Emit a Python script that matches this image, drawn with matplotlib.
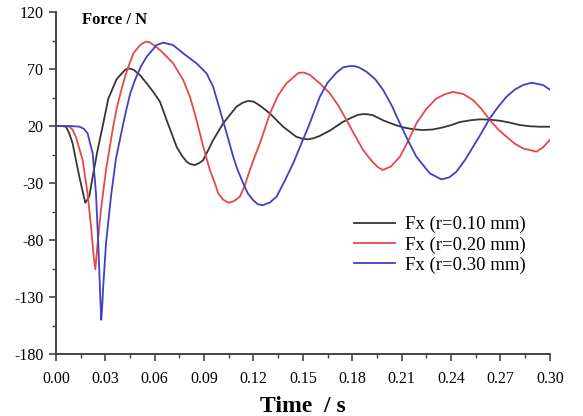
import numpy as np
import matplotlib
matplotlib.use('Agg')
import matplotlib.pyplot as plt

plt.rcParams['font.family'] = ['Liberation Serif', 'DejaVu Serif']
plt.rcParams['axes.unicode_minus'] = False

# Fx(t) read for each notch radius
t_r10 = [0.0, 0.0035, 0.0061, 0.0081, 0.0101, 0.0142, 0.0178, 0.0202, 0.0223, 0.0253,
         0.0283, 0.0318, 0.0368, 0.0405, 0.0422, 0.0439, 0.0456, 0.0475, 0.051, 0.0551,
         0.0591, 0.0632, 0.0672, 0.0733, 0.0765, 0.0794, 0.0815, 0.0844, 0.087, 0.0895,
         0.0955, 0.1016, 0.1097, 0.1135, 0.1168, 0.120, 0.1239, 0.130, 0.138, 0.146,
         0.1495, 0.153, 0.1565, 0.160, 0.1664, 0.1745, 0.1805, 0.1835, 0.1866, 0.1895,
         0.1925, 0.1988, 0.205, 0.211, 0.217, 0.223, 0.229, 0.235, 0.2405, 0.2453,
         0.2515, 0.2575, 0.2635, 0.2696, 0.2757, 0.2818, 0.288, 0.294, 0.300]
fx_r10 = [20, 20, 19.4, 13.5, 4.8, -24.5, -47.3, -42, -24.5, -1,
          19.4, 44, 61, 67, 69.5, 70.5, 70.2, 69, 64.7, 57.5,
          50, 41.3, 25.3, 1.8, -6, -11.3, -13.3, -14.2, -12.5, -9.8,
          7.7, 22.4, 37, 40.5, 42, 41.5, 38, 31, 19.4, 10.6,
          9, 8.3, 9.3, 11.2, 16, 23.8, 28, 29.8, 30.5, 30.3,
          29.5, 25, 21.5, 18.8, 17.2, 16.5, 17, 18.8, 21, 23.5,
          25, 25.9, 25.6, 24.7, 23, 20.9, 19.8, 19.4, 19.4]

t_r20 = [0.0, 0.004, 0.006, 0.0081, 0.010, 0.0121, 0.0162, 0.0192, 0.0213, 0.0229,
         0.0239, 0.0253, 0.0273, 0.0304, 0.0344, 0.0368, 0.0394, 0.0419, 0.0445, 0.047,
         0.0505, 0.0525, 0.0547, 0.0568, 0.059, 0.0632, 0.0672, 0.0712, 0.0773, 0.0814,
         0.0854, 0.0895, 0.0935, 0.0965, 0.0986, 0.1015, 0.1047, 0.108, 0.1117, 0.1145,
         0.1178, 0.1207, 0.1239, 0.130, 0.135, 0.140, 0.1472, 0.1505, 0.1542, 0.1603,
         0.1664, 0.1715, 0.1765, 0.1815, 0.1866, 0.192, 0.1955, 0.1985, 0.2035, 0.2089,
         0.214, 0.219, 0.225, 0.2312, 0.2365, 0.2413, 0.2475, 0.2534, 0.2585, 0.2636,
         0.2687, 0.2737, 0.2788, 0.2838, 0.2919, 0.296, 0.300]
fx_r20 = [20, 20, 20, 19.5, 17, 10.6, -9.8, -39, -68, -94.6,
          -105.7, -83, -53.7, -18.6, 16.5, 35, 50, 63, 74, 83.7,
          90, 92.5, 94, 93.5, 91.5, 86.7, 81, 75, 60.4, 45.7,
          25.3, 1.8, -18.6, -30, -39, -44.5, -47.3, -46, -42, -33,
          -18.6, -7, 4.8, 31, 47, 57.4, 66.5, 67, 65, 57.4,
          48.7, 38, 25.3, 12, -1, -11, -16, -18.5, -15.5, -7,
          7, 22.4, 35, 44.3, 48, 50, 48, 42.8, 35, 25.3,
          17, 10.6, 4.5, 0.4, -2.5, 1.5, 7.7]

t_r30 = [0.0, 0.0085, 0.0142, 0.017, 0.0192, 0.0223, 0.0243, 0.0257, 0.0269, 0.0275,
         0.0281, 0.0287, 0.0304, 0.0334, 0.0364, 0.0394, 0.0419, 0.045, 0.048, 0.0515,
         0.0551, 0.0611, 0.0652, 0.0712, 0.0773, 0.0854, 0.0915, 0.0955, 0.0996, 0.1037,
         0.1077, 0.1105, 0.1138, 0.1165, 0.1198, 0.1225, 0.1255, 0.130, 0.134, 0.139,
         0.1441, 0.1492, 0.1542, 0.1603, 0.165, 0.1705, 0.1745, 0.1785, 0.1815, 0.184,
         0.1887, 0.194, 0.1988, 0.204, 0.2089, 0.214, 0.219, 0.2271, 0.2342, 0.239,
         0.2433, 0.2484, 0.2534, 0.2585, 0.2636, 0.2687, 0.2737, 0.2788, 0.2838, 0.2889,
         0.2959, 0.300]
fx_r30 = [20, 20, 19.5, 17.5, 13.6, -4, -39, -83, -129.7, -150,
          -138, -121, -83, -42, -9, 12, 29, 48, 60.4, 72,
          80.8, 91, 93.2, 91, 83.8, 75, 66.2, 54.5, 34, 13.6,
          -7, -19, -30.3, -39, -45, -48.5, -49.5, -47, -42, -28,
          -12.7, 5, 22.4, 45.7, 58, 67, 71.5, 72.6, 72.5, 71.5,
          67.6, 61, 51.6, 38, 22.4, 7, -7, -21.5, -26.8, -25,
          -20, -10, 1.8, 14, 26.8, 37, 45.7, 52, 56, 58,
          56, 52]

labels = ['Fx (r=0.10 mm)', 'Fx (r=0.20 mm)', 'Fx (r=0.30 mm)']
colors = ['#363636', '#e5484a', '#4040c0']

fig = plt.figure(figsize=(5.83, 4.16), dpi=100)
ax = fig.add_axes([0.096, 0.149, 0.847, 0.822])

for t, fx, lab, c in zip([t_r10, t_r20, t_r30], [fx_r10, fx_r20, fx_r30], labels, colors):
    ax.plot(t, fx, color=c, lw=1.3, label=lab, solid_joinstyle='round')

ax.set_xlim(0, 0.30)
ax.set_ylim(-180, 120)
ax.set_xticks(np.arange(0, 0.301, 0.03))
ax.set_xticks(np.arange(0.015, 0.30, 0.03), minor=True)
ax.set_xticklabels([f'{v:.2f}' for v in np.arange(0, 0.301, 0.03)])
ax.set_yticks(np.arange(-180, 121, 50))
ax.set_yticks(np.arange(-155, 120, 50), minor=True)

for side in ['top', 'right']:
    ax.spines[side].set_visible(False)
for side in ['left', 'bottom']:
    ax.spines[side].set_color('#444444')
    ax.spines[side].set_linewidth(1.4)

ax.tick_params(which='major', direction='out', length=5, width=1.2, color='#444444',
               labelsize=11.5)
ax.tick_params(axis='x', which='major', pad=7)
ax.tick_params(axis='y', which='major', pad=4)
ax.tick_params(which='minor', direction='out', length=3, width=1.0, color='#444444')

ax.text(0.052, 0.977, 'Force / N', transform=ax.transAxes, fontsize=12,
        fontweight='bold', va='center', ha='left')
ax.set_xlabel('Time  / s', fontsize=17, fontweight='bold', labelpad=7)

ax.legend(loc='upper left', bbox_to_anchor=(0.588, 0.425), frameon=False,
          fontsize=13.5, handlelength=2.2, handletextpad=0.55, labelspacing=0.16,
          borderaxespad=0)

fig.savefig('out.png', dpi=100)
